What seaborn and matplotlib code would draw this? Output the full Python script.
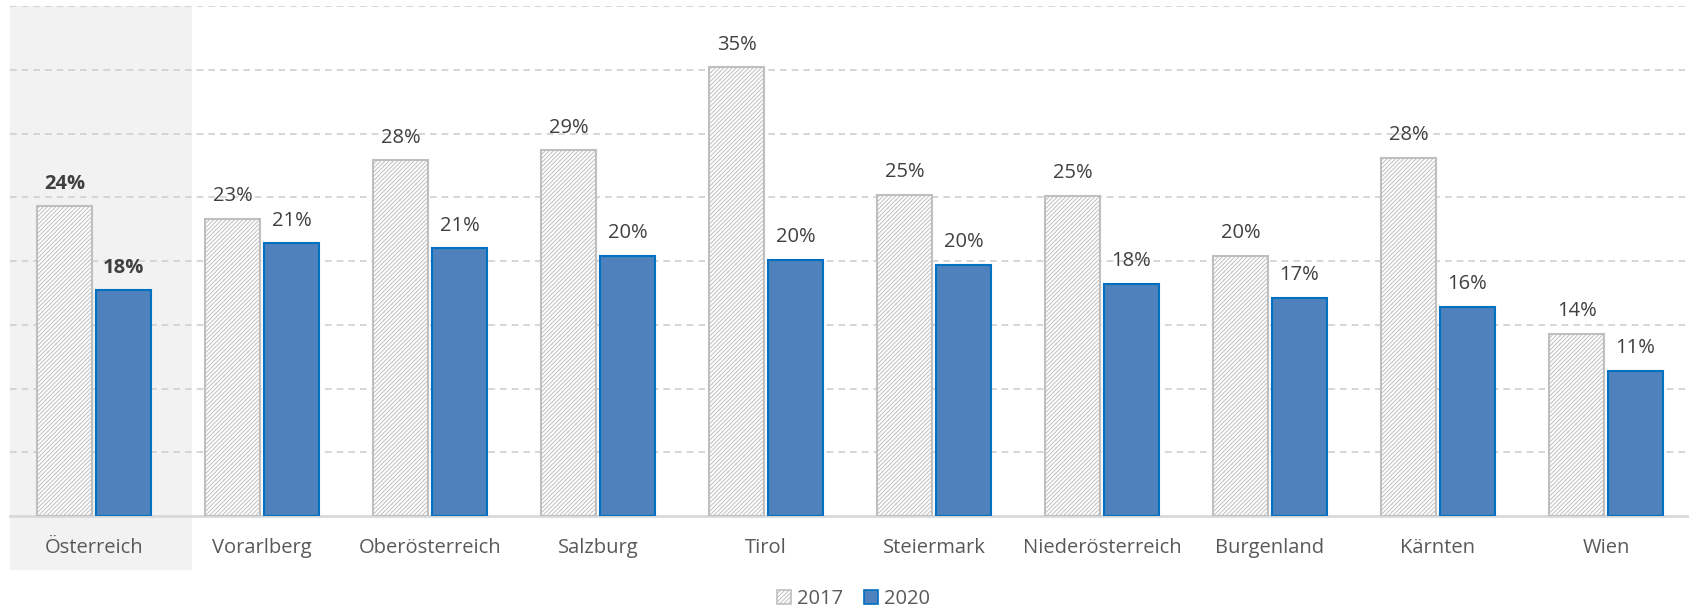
import matplotlib
matplotlib.use("Agg")
import matplotlib.pyplot as plt
import seaborn as sns
import pandas as pd
from matplotlib.patches import Patch, Rectangle

categories = ["Österreich", "Vorarlberg", "Oberösterreich", "Salzburg", "Tirol",
              "Steiermark", "Niederösterreich", "Burgenland", "Kärnten", "Wien"]
values_2017 = [24.3, 23.3, 27.9, 28.7, 35.2, 25.2, 25.1, 20.4, 28.1, 14.3]
values_2020 = [17.7, 21.4, 21.0, 20.4, 20.1, 19.7, 18.2, 17.1, 16.4, 11.4]
years = ["2017", "2020"]

df = pd.DataFrame({
    "Region": categories * 2,
    "Jahr": [years[0]] * len(categories) + [years[1]] * len(categories),
    "Wert": values_2017 + values_2020,
})

sns.set_theme(style="white")
FONT = ["Open Sans", "DejaVu Sans"]
plt.rcParams["font.family"] = FONT
plt.rcParams["hatch.linewidth"] = 0.7

W, H = 1690, 609
fig = plt.figure(figsize=(W / 100, H / 100), dpi=100)
ax = fig.add_axes([10 / W, (H - 516) / H, 1 - 10 / W, (516 - 6) / H])
ax.patch.set_alpha(0)
ax.set_zorder(1)

# grey highlight for Österreich (in figure pixels)
fig.patches.append(Rectangle((10 / W, (H - 570) / H), 182 / W, 564 / H,
                             transform=fig.transFigure, facecolor="#F2F2F2",
                             edgecolor="none", zorder=-1))

sns.barplot(data=df, x="Region", y="Wert", hue="Jahr", order=categories,
            hue_order=years, palette={"2017": "white", "2020": "#4F81BD"},
            saturation=1, width=0.7, gap=0.07, legend=False, ax=ax, zorder=3)

grey_edge = "#BFBFBF"
blue_edge = "#0070C0"
HATCH = "////////"
c17, c20 = ax.containers[0], ax.containers[1]
for p in c17:
    p.set_hatch(HATCH)
    p.set_edgecolor(grey_edge)
    p.set_linewidth(1.5)
for p in c20:
    p.set_edgecolor(blue_edge)
    p.set_linewidth(1.5)

for cont in (c17, c20):
    labels = ax.bar_label(cont, fmt="%.0f%%", padding=9, fontsize=14.5, color="#404040")
    labels[0].set_fontweight("bold")

ax.set_ylim(0, 40)
ax.set_xlim(-0.5, len(categories) - 0.5)
ax.set_yticks(range(5, 41, 5))
ax.yaxis.grid(True, linestyle=(0, (4, 3)), color="#D0D0D0", linewidth=1.2, zorder=0)
ax.set_axisbelow(True)
ax.tick_params(axis="y", left=False, labelleft=False)
ax.tick_params(axis="x", bottom=False, pad=10, labelsize=14.5, labelcolor="#595959")
ax.set_xlabel("")
ax.set_ylabel("")
for s in ["top", "left", "right"]:
    ax.spines[s].set_visible(False)
ax.spines["bottom"].set_color("#D9D9D9")
ax.spines["bottom"].set_linewidth(2)

handles = [Patch(facecolor="white", edgecolor=grey_edge, hatch=HATCH, linewidth=1.2, label="2017"),
           Patch(facecolor="#4F81BD", edgecolor=blue_edge, linewidth=1.2, label="2020")]
fig.legend(handles=handles, loc="center", bbox_to_anchor=(0.505, (H - 599) / H),
           ncol=2, frameon=False, fontsize=14.5, labelcolor="#595959",
           handlelength=0.7, handleheight=0.7, handletextpad=0.3, columnspacing=1.0)

fig.savefig("out.png", dpi=100)
